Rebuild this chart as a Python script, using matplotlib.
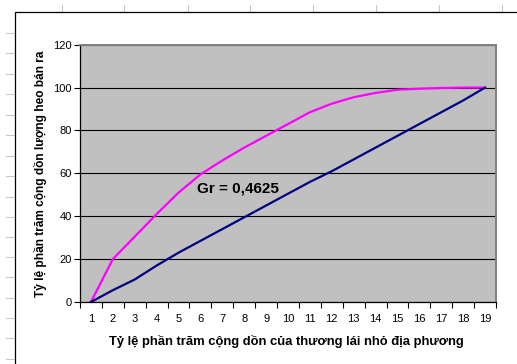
import matplotlib
matplotlib.use("Agg")
import matplotlib.pyplot as plt
from matplotlib.lines import Line2D
from matplotlib.ticker import FixedLocator

plt.rcParams['font.family'] = ['Liberation Sans', 'DejaVu Sans']

# Cumulative shares (Lorenz curve) for local small traders
categories = list(range(1, 20))
tick_labels = [str(c) for c in categories]
heo_ban_ra = [0, 20, 30.5, 41, 51, 59.5, 66, 72, 77.5, 83, 88.5, 92.5,
              95.5, 97.5, 99, 99.5, 99.8, 100, 100]
duong_binh_dang = [0, 5.5, 10.5, 17, 23, 28.5, 34, 39.5, 45, 50.5, 56, 61,
                   66.5, 72, 77.5, 83, 88.5, 94, 100]
y_ticks = [0, 20, 40, 60, 80, 100, 120]
gini_text = "Gr = 0,4625"
x_title = "Tỷ lệ phần trăm cộng dồn của thương lái nhỏ địa phương"
y_title = "Tỷ lệ phần trăm cộng dồn lượng heo bán ra"

W, H = 517, 364
fig = plt.figure(figsize=(W / 100, H / 100), dpi=100)
fig.patch.set_facecolor('white')


# worksheet cell grid peeking around the chart object
grid_col = '#c8c8c8'
for cx in [61.7, 124.3, 187.7, 250, 313, 376.3, 439, 502.3]:
    fig.add_artist(Line2D([cx / W, cx / W], [1 - 5 / H, 1 - 11 / H],
                          transform=fig.transFigure, color=grid_col, lw=0.8))
for ry in [33.3, 53.3, 74, 94.3, 115, 135, 155.7, 175.7, 196.7, 216.7,
           236.7, 257.3, 277.3, 297.7, 317.7, 338.3, 359]:
    fig.add_artist(Line2D([6 / W, 14 / W], [1 - ry / H, 1 - ry / H],
                          transform=fig.transFigure, color=grid_col, lw=0.8))

# chart object frame
fig.add_artist(Line2D([14.5 / W, 14.5 / W, 1.0], [0.0, 1 - 11.5 / H, 1 - 11.5 / H],
                      transform=fig.transFigure, color='black', lw=0.9))

left, right, top, bottom = 80, 496, 44.7, 302
ax = fig.add_axes([left / W, 1 - bottom / H, (right - left) / W, (bottom - top) / H])
ax.set_facecolor('#c0c0c0')

ax.plot(categories, heo_ban_ra, color='#ff00ff', lw=1.6, solid_joinstyle='round')
ax.plot(categories, duong_binh_dang, color='#000080', lw=1.6, solid_joinstyle='round')

ax.set_xlim(0.5, 19.5)
ax.set_ylim(0, 120)

ax.set_xticks(categories)
ax.set_xticklabels(tick_labels, fontsize=8)
ax.xaxis.set_minor_locator(FixedLocator([c + 0.5 for c in [0] + categories]))
ax.tick_params(axis='x', which='major', length=0, pad=8.5)
ax.tick_params(axis='x', which='minor', length=4, direction='out', width=0.8, color='black')

ax.set_yticks(y_ticks)
ax.set_yticklabels([str(v) for v in y_ticks], fontsize=8)
ax.tick_params(axis='y', length=4, direction='out', width=0.8, pad=2)

ax.yaxis.grid(True, color='black', lw=0.8)
ax.set_axisbelow(True)

for s in ['left', 'bottom']:
    ax.spines[s].set_color('black')
    ax.spines[s].set_linewidth(0.9)
for s in ['top', 'right']:
    ax.spines[s].set_color('#808080')
    ax.spines[s].set_linewidth(1.4)

ax.text(5.84, 52.8, gini_text, fontsize=11, fontweight='bold', ha='left', va='center')

fig.text(286.5 / W, 1 - 341 / H, x_title, fontsize=9.4, fontweight='bold',
         ha='center', va='center')
fig.text(40.5 / W, 1 - 173.5 / H, y_title, fontsize=8.6, fontweight='bold',
         ha='center', va='center', rotation=90)

fig.savefig('out.png', dpi=100)
